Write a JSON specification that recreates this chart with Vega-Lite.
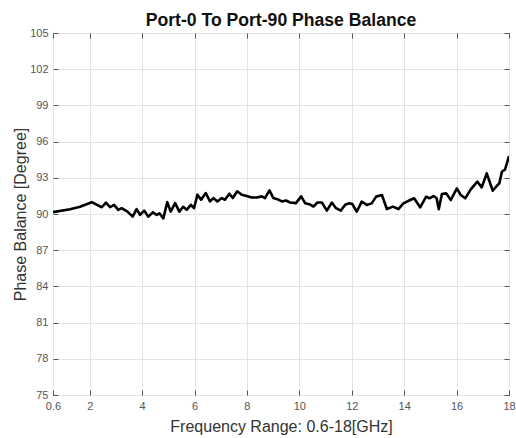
{
  "$schema": "https://vega.github.io/schema/vega-lite/v6.json",
  "width": 456,
  "height": 362,
  "autosize": {"type": "none"},
  "padding": {"left": 53, "top": 33, "right": 7, "bottom": 43},
  "background": "white",
  "title": {"text": "Port-0 To Port-90 Phase Balance", "font": "Liberation Sans", "fontSize": 17.6, "fontWeight": "bold", "color": "#111", "anchor": "middle", "offset": -3},
  "config": {
    "view": {"stroke": "#555", "strokeWidth": 1},
    "axis": {"labelFont": "Liberation Sans", "titleFont": "Liberation Sans", "labelFontSize": 11, "labelColor": "#555", "titleColor": "#333", "titleFontSize": 16, "titleFontWeight": "normal", "gridColor": "#e4e4e4", "gridWidth": 1, "domain": false, "tickColor": "#555", "tickSize": -5, "labelFlush": false}
  },
  "data": {"values": [
    {"f": 0.6, "p": 90.15}, {"f": 1.25, "p": 90.4}, {"f": 1.63, "p": 90.6}, {"f": 2.08, "p": 90.98},
    {"f": 2.46, "p": 90.56}, {"f": 2.62, "p": 90.95}, {"f": 2.78, "p": 90.56}, {"f": 2.93, "p": 90.76},
    {"f": 3.09, "p": 90.34}, {"f": 3.22, "p": 90.48}, {"f": 3.44, "p": 90.2}, {"f": 3.64, "p": 89.78},
    {"f": 3.79, "p": 90.4}, {"f": 3.92, "p": 89.92}, {"f": 4.08, "p": 90.28}, {"f": 4.24, "p": 89.78},
    {"f": 4.41, "p": 90.14}, {"f": 4.56, "p": 89.92}, {"f": 4.66, "p": 90.06}, {"f": 4.81, "p": 89.64},
    {"f": 4.96, "p": 90.98}, {"f": 5.09, "p": 90.2}, {"f": 5.26, "p": 90.9}, {"f": 5.42, "p": 90.2},
    {"f": 5.57, "p": 90.6}, {"f": 5.7, "p": 90.34}, {"f": 5.86, "p": 90.76}, {"f": 5.98, "p": 90.48},
    {"f": 6.11, "p": 91.6}, {"f": 6.25, "p": 91.18}, {"f": 6.43, "p": 91.74}, {"f": 6.59, "p": 91.04},
    {"f": 6.72, "p": 91.32}, {"f": 6.87, "p": 91.04}, {"f": 7.04, "p": 91.32}, {"f": 7.16, "p": 91.18},
    {"f": 7.33, "p": 91.68}, {"f": 7.46, "p": 91.32}, {"f": 7.63, "p": 91.88}, {"f": 7.8, "p": 91.6},
    {"f": 7.99, "p": 91.5}, {"f": 8.18, "p": 91.37}, {"f": 8.37, "p": 91.37}, {"f": 8.57, "p": 91.46},
    {"f": 8.69, "p": 91.32}, {"f": 8.86, "p": 91.96}, {"f": 9.01, "p": 91.32}, {"f": 9.16, "p": 91.23},
    {"f": 9.33, "p": 91.04}, {"f": 9.49, "p": 91.12}, {"f": 9.65, "p": 90.95}, {"f": 9.87, "p": 90.9},
    {"f": 10.07, "p": 91.46}, {"f": 10.22, "p": 90.9}, {"f": 10.38, "p": 90.81}, {"f": 10.54, "p": 90.62},
    {"f": 10.69, "p": 90.95}, {"f": 10.86, "p": 90.95}, {"f": 11.05, "p": 90.28}, {"f": 11.24, "p": 90.95},
    {"f": 11.4, "p": 90.48}, {"f": 11.58, "p": 90.28}, {"f": 11.75, "p": 90.76}, {"f": 11.91, "p": 90.9},
    {"f": 12.02, "p": 90.83}, {"f": 12.19, "p": 90.19}, {"f": 12.38, "p": 91.02}, {"f": 12.57, "p": 90.75},
    {"f": 12.76, "p": 90.88}, {"f": 12.93, "p": 91.44}, {"f": 13.15, "p": 91.57}, {"f": 13.34, "p": 90.41},
    {"f": 13.57, "p": 90.61}, {"f": 13.78, "p": 90.41}, {"f": 13.97, "p": 90.88}, {"f": 14.23, "p": 91.16},
    {"f": 14.38, "p": 91.3}, {"f": 14.61, "p": 90.55}, {"f": 14.84, "p": 91.44}, {"f": 14.96, "p": 91.3},
    {"f": 15.12, "p": 91.49}, {"f": 15.24, "p": 91.3}, {"f": 15.32, "p": 90.39}, {"f": 15.44, "p": 91.66},
    {"f": 15.6, "p": 91.71}, {"f": 15.78, "p": 91.16}, {"f": 16.01, "p": 92.13}, {"f": 16.16, "p": 91.57},
    {"f": 16.33, "p": 91.3}, {"f": 16.54, "p": 92.04}, {"f": 16.79, "p": 92.68}, {"f": 16.96, "p": 92.21},
    {"f": 17.15, "p": 93.37}, {"f": 17.38, "p": 91.93}, {"f": 17.53, "p": 92.32}, {"f": 17.63, "p": 92.54},
    {"f": 17.73, "p": 93.5}, {"f": 17.85, "p": 93.7}, {"f": 18.0, "p": 94.8}
  ]},
  "layer": [
    {
      "mark": {"type": "line", "color": "#000", "strokeWidth": 2.6, "strokeJoin": "round", "clip": true},
      "encoding": {
        "x": {"field": "f", "type": "quantitative", "scale": {"domain": [0.6, 18], "nice": false, "zero": false},
          "axis": {"values": [0.6, 2, 4, 6, 8, 10, 12, 14, 16, 18], "title": "Frequency Range: 0.6-18[GHz]", "titlePadding": 7, "labelPadding": 10, "labelExpr": "datum.value == 0.6 ? '0.6' : format(datum.value, 'd')"}},
        "y": {"field": "p", "type": "quantitative", "scale": {"domain": [75, 105], "nice": false, "zero": false},
          "axis": {"values": [75, 78, 81, 84, 87, 90, 93, 96, 99, 102, 105], "title": "Phase Balance [Degree]", "titlePadding": 1, "labelPadding": 10}}
      }
    },
    {
      "mark": {"type": "line", "opacity": 0},
      "encoding": {
        "x": {"field": "f", "type": "quantitative", "axis": {"orient": "top", "values": [0.6, 2, 4, 6, 8, 10, 12, 14, 16, 18], "labels": false, "grid": false, "title": null}},
        "y": {"field": "p", "type": "quantitative", "axis": {"orient": "right", "values": [75, 78, 81, 84, 87, 90, 93, 96, 99, 102, 105], "labels": false, "grid": false, "title": null}}
      }
    }
  ],
  "resolve": {"axis": {"x": "independent", "y": "independent"}}
}
